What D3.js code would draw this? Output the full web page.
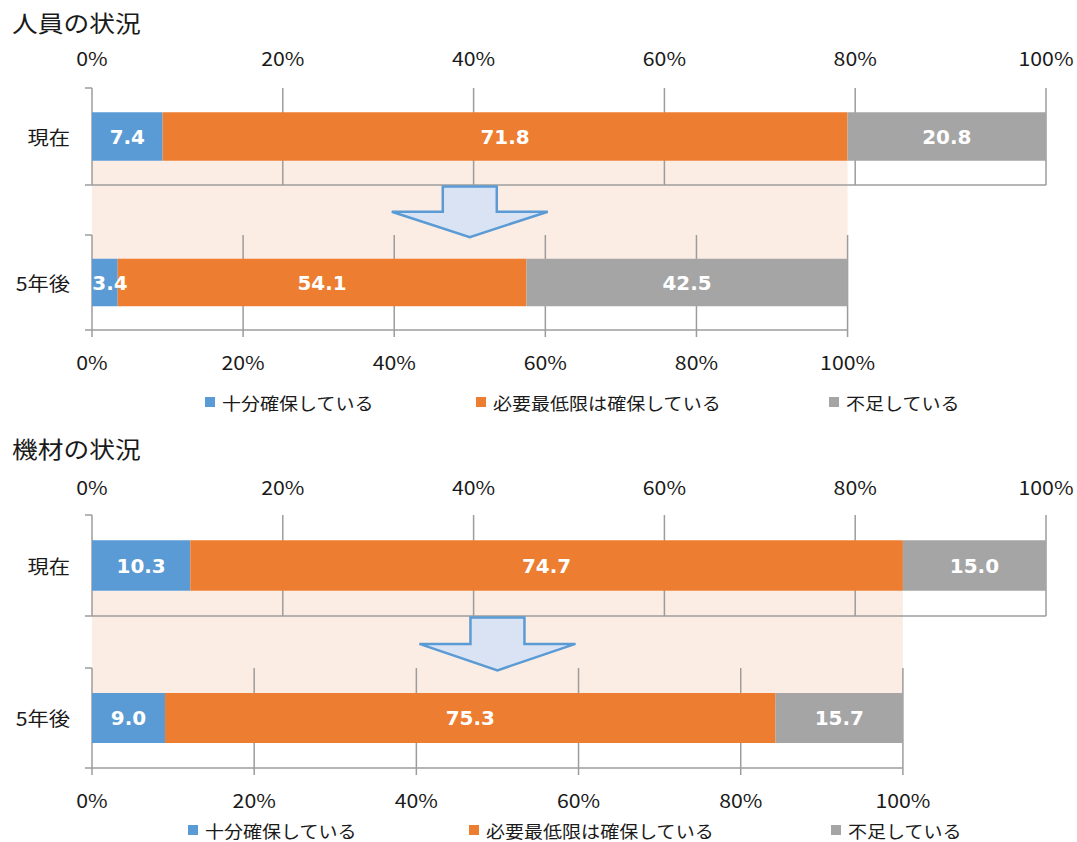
<!DOCTYPE html>
<html>
<head>
<meta charset="utf-8">
<script src="https://cdnjs.cloudflare.com/ajax/libs/d3/7.8.5/d3.min.js"></script>
<style>
  body { margin: 0; background: #fff; }
  svg { display: block; }
</style>
</head>
<body>
<svg id="chart" width="1077" height="842"></svg>
<script>
// series names and colours
const seriesNames = ["十分確保している", "必要最低限は確保している", "不足している"];
const seriesColors = ["#5b9bd5", "#ed7d31", "#a5a5a5"];
const categories = ["現在", "5年後"];
const tickValues = [0, 20, 40, 60, 80, 100];

// values (%)
const staffNow = [7.4, 71.8, 20.8];
const staffFuture = [3.4, 54.1, 42.5];
const equipNow = [10.3, 74.7, 15.0];
const equipFuture = [9.0, 75.3, 15.7];

const panels = [
  {
    title: "人員の状況", now: staffNow, future: staffFuture,
    titleY: 22, topLabelY: 58, topBand: [88, 185], botBand: [235, 330],
    botLabelY: 362, legendY: 402, legendX: [205, 476, 829]
  },
  {
    title: "機材の状況", now: equipNow, future: equipFuture,
    titleY: 448, topLabelY: 487, topBand: [515, 616], botBand: [668, 768],
    botLabelY: 800, legendY: 830, legendX: [188, 469, 831]
  }
];

const svg = d3.select("#chart");
const x0 = 92, x1 = 1046;
const gridColor = "#9c9c9c";
const jpFont = "'Noto Sans CJK JP', 'Noto Sans', sans-serif";
const stretch = 1.12;

// text helper: slightly wide glyphs like the original
function addText(g, x, y, str, size, opts = {}) {
  return g.append("text")
    .attr("transform", `translate(${x},${y}) scale(${opts.sx || stretch},1)`)
    .attr("text-anchor", opts.anchor || "start")
    .attr("dominant-baseline", "central")
    .style("font-family", opts.font || jpFont)
    .style("font-size", size + "px")
    .style("font-weight", opts.weight || "normal")
    .attr("fill", opts.fill || "#1a1a1a")
    .text(str);
}

// one stacked bar with its own axis frame
function drawBar(g, xScale, band, values, cat, bottomTicks) {
  const y = d3.scaleBand().domain([cat]).range(band).padding(1 / 3);

  // gridlines
  g.selectAll(null)
    .data(tickValues)
    .join("line")
    .attr("x1", d => xScale(d)).attr("x2", d => xScale(d))
    .attr("y1", band[0]).attr("y2", band[1] + (bottomTicks ? 7 : 0))
    .attr("stroke", gridColor).attr("stroke-width", 1.5);

  // axis bracket
  g.append("line")
    .attr("x1", xScale(0) - 7).attr("x2", xScale(100))
    .attr("y1", band[1]).attr("y2", band[1])
    .attr("stroke", gridColor).attr("stroke-width", 1.5);
  g.append("line")
    .attr("x1", xScale(0) - 7).attr("x2", xScale(0))
    .attr("y1", band[0]).attr("y2", band[0])
    .attr("stroke", gridColor).attr("stroke-width", 1.5);

  const stack = [];
  let acc = 0;
  values.forEach((v, i) => { stack.push({ v, i, s: acc, e: acc + v }); acc += v; });

  g.selectAll(null)
    .data(stack)
    .join("rect")
    .attr("x", d => xScale(d.s))
    .attr("width", d => xScale(d.e) - xScale(d.s))
    .attr("y", y(cat))
    .attr("height", y.bandwidth())
    .attr("fill", d => seriesColors[d.i]);

  stack.forEach(d => {
    const mid = Math.max((xScale(d.s) + xScale(d.e)) / 2, xScale(0) + 18);
    addText(g, mid, y(cat) + y.bandwidth() / 2 + 1, d.v.toFixed(1), 19,
      { anchor: "middle", font: "'DejaVu Sans', Verdana, sans-serif", weight: "bold", fill: "#fff", sx: 1.05 });
  });

  addText(g, 70, y(cat) + y.bandwidth() / 2, cat, 19, { anchor: "end" });
}

panels.forEach(p => {
  const g = svg.append("g");
  const xTop = d3.scaleLinear().domain([0, 100]).range([x0, x1]);
  const keepEnd = xTop(p.now[0] + p.now[1]);
  const xBot = d3.scaleLinear().domain([0, 100]).range([x0, keepEnd]);

  addText(g, 12, p.titleY, p.title, 23);

  // pale band linking the kept share to the future bar
  const yTop = d3.scaleBand().domain([categories[0]]).range(p.topBand).padding(1 / 3);
  const yBot = d3.scaleBand().domain([categories[1]]).range(p.botBand).padding(1 / 3);
  g.append("rect")
    .attr("x", x0).attr("width", keepEnd - x0)
    .attr("y", yTop(categories[0]) + yTop.bandwidth())
    .attr("height", yBot(categories[1]) + 10 - (yTop(categories[0]) + yTop.bandwidth()))
    .attr("fill", "#fcede4");

  drawBar(g, xTop, p.topBand, p.now, categories[0], false);
  drawBar(g, xBot, p.botBand, p.future, categories[1], true);

  // tick labels
  tickValues.forEach(t => {
    addText(g, xTop(t), p.topLabelY, t + "%", 19, { anchor: "middle" });
    addText(g, xBot(t), p.botLabelY, t + "%", 19, { anchor: "middle" });
  });

  // arrow
  const cx = (x0 + keepEnd) / 2;
  const ay = p.topBand[1] + 1.5;
  const gap = yBot(categories[1]) - ay;
  const ah = gap * 0.7;
  const pts = [
    [cx - 27, ay], [cx + 27, ay], [cx + 27, ay + ah / 2], [cx + 78, ay + ah / 2],
    [cx, ay + ah], [cx - 78, ay + ah / 2], [cx - 27, ay + ah / 2]
  ];
  g.append("path")
    .attr("d", d3.line()(pts) + "Z")
    .attr("fill", "#dae3f3")
    .attr("stroke", "#5b9bd5")
    .attr("stroke-width", 2.5);

  // legend
  seriesNames.forEach((n, i) => {
    g.append("rect")
      .attr("x", p.legendX[i]).attr("y", p.legendY - 5)
      .attr("width", 10).attr("height", 10)
      .attr("fill", seriesColors[i]);
    addText(g, p.legendX[i] + 17, p.legendY, n, 17);
  });
});
</script>
</body>
</html>
